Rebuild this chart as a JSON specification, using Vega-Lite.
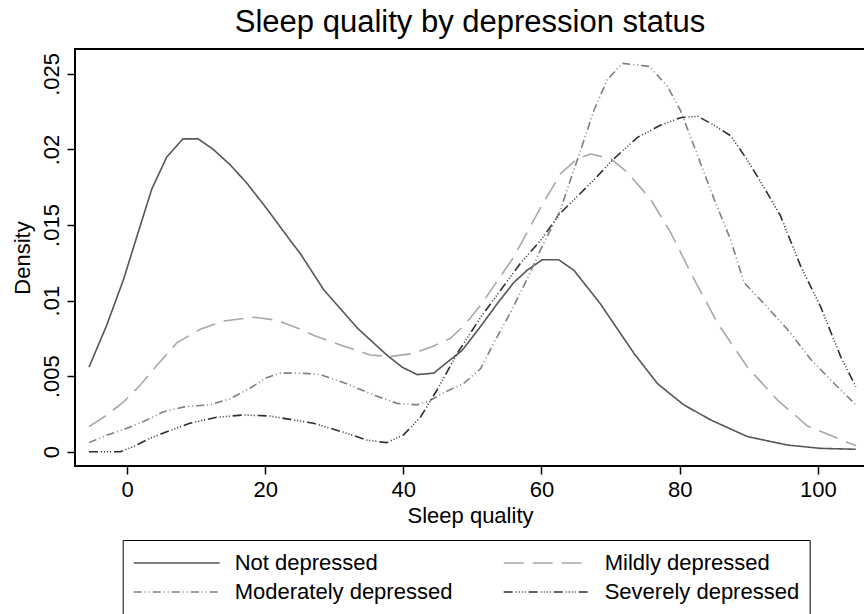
{
  "$schema": "https://vega.github.io/schema/vega-lite/v6.json",
  "width": 790,
  "height": 417,
  "autosize": {"type": "none"},
  "padding": {"left": 75, "top": 49, "right": 0, "bottom": 148},
  "background": "white",
  "title": {
    "text": "Sleep quality by depression status",
    "font": "Liberation Sans",
    "fontSize": 31,
    "fontWeight": "normal",
    "color": "black",
    "anchor": "middle",
    "frame": "group",
    "baseline": "alphabetic",
    "offset": -14
  },
  "data": {
    "values": [
      {"status": "Not depressed", "sleep": -5.5, "density": 0.0056},
      {"status": "Not depressed", "sleep": -3.0, "density": 0.0083},
      {"status": "Not depressed", "sleep": -0.5, "density": 0.0114},
      {"status": "Not depressed", "sleep": 1.4, "density": 0.0142},
      {"status": "Not depressed", "sleep": 3.6, "density": 0.0174},
      {"status": "Not depressed", "sleep": 5.75, "density": 0.0195},
      {"status": "Not depressed", "sleep": 8.1, "density": 0.0207},
      {"status": "Not depressed", "sleep": 10.3, "density": 0.0207},
      {"status": "Not depressed", "sleep": 12.5, "density": 0.0200},
      {"status": "Not depressed", "sleep": 14.9, "density": 0.0190},
      {"status": "Not depressed", "sleep": 17.3, "density": 0.0178},
      {"status": "Not depressed", "sleep": 20.2, "density": 0.0161},
      {"status": "Not depressed", "sleep": 23.6, "density": 0.0140},
      {"status": "Not depressed", "sleep": 25.1, "density": 0.0131},
      {"status": "Not depressed", "sleep": 28.5, "density": 0.0107},
      {"status": "Not depressed", "sleep": 33.3, "density": 0.0082},
      {"status": "Not depressed", "sleep": 37.6, "density": 0.0064},
      {"status": "Not depressed", "sleep": 39.8, "density": 0.0056},
      {"status": "Not depressed", "sleep": 42.0, "density": 0.0051},
      {"status": "Not depressed", "sleep": 44.4, "density": 0.0052},
      {"status": "Not depressed", "sleep": 46.3, "density": 0.0059},
      {"status": "Not depressed", "sleep": 48.5, "density": 0.0067},
      {"status": "Not depressed", "sleep": 51.2, "density": 0.0083},
      {"status": "Not depressed", "sleep": 53.6, "density": 0.0098},
      {"status": "Not depressed", "sleep": 56.0, "density": 0.0112},
      {"status": "Not depressed", "sleep": 57.9, "density": 0.0120},
      {"status": "Not depressed", "sleep": 60.1, "density": 0.0127},
      {"status": "Not depressed", "sleep": 62.5, "density": 0.0127},
      {"status": "Not depressed", "sleep": 64.7, "density": 0.0120},
      {"status": "Not depressed", "sleep": 68.5, "density": 0.0098},
      {"status": "Not depressed", "sleep": 73.4, "density": 0.0065},
      {"status": "Not depressed", "sleep": 76.8, "density": 0.0045},
      {"status": "Not depressed", "sleep": 80.6, "density": 0.0031},
      {"status": "Not depressed", "sleep": 84.5, "density": 0.0021},
      {"status": "Not depressed", "sleep": 89.8, "density": 0.0010},
      {"status": "Not depressed", "sleep": 95.6, "density": 0.00044},
      {"status": "Not depressed", "sleep": 100.4, "density": 0.00022},
      {"status": "Not depressed", "sleep": 105.5, "density": 0.00016},

      {"status": "Mildly depressed", "sleep": -5.5, "density": 0.00166},
      {"status": "Mildly depressed", "sleep": -2.9, "density": 0.00243},
      {"status": "Mildly depressed", "sleep": -0.5, "density": 0.0033},
      {"status": "Mildly depressed", "sleep": 1.9, "density": 0.0044},
      {"status": "Mildly depressed", "sleep": 4.3, "density": 0.0057},
      {"status": "Mildly depressed", "sleep": 7.2, "density": 0.0072},
      {"status": "Mildly depressed", "sleep": 10.6, "density": 0.0081},
      {"status": "Mildly depressed", "sleep": 14.0, "density": 0.00865},
      {"status": "Mildly depressed", "sleep": 18.3, "density": 0.0089},
      {"status": "Mildly depressed", "sleep": 21.7, "density": 0.0087},
      {"status": "Mildly depressed", "sleep": 25.1, "density": 0.0081},
      {"status": "Mildly depressed", "sleep": 27.0, "density": 0.0077},
      {"status": "Mildly depressed", "sleep": 31.3, "density": 0.0070},
      {"status": "Mildly depressed", "sleep": 35.2, "density": 0.0064},
      {"status": "Mildly depressed", "sleep": 38.1, "density": 0.0063},
      {"status": "Mildly depressed", "sleep": 41.5, "density": 0.0065},
      {"status": "Mildly depressed", "sleep": 44.4, "density": 0.0070},
      {"status": "Mildly depressed", "sleep": 46.8, "density": 0.0075},
      {"status": "Mildly depressed", "sleep": 48.7, "density": 0.0083},
      {"status": "Mildly depressed", "sleep": 51.2, "density": 0.0097},
      {"status": "Mildly depressed", "sleep": 53.6, "density": 0.0113},
      {"status": "Mildly depressed", "sleep": 56.0, "density": 0.0129},
      {"status": "Mildly depressed", "sleep": 59.8, "density": 0.0161},
      {"status": "Mildly depressed", "sleep": 62.75, "density": 0.0184},
      {"status": "Mildly depressed", "sleep": 65.2, "density": 0.0194},
      {"status": "Mildly depressed", "sleep": 67.1, "density": 0.0197},
      {"status": "Mildly depressed", "sleep": 70.0, "density": 0.0194},
      {"status": "Mildly depressed", "sleep": 72.4, "density": 0.0185},
      {"status": "Mildly depressed", "sleep": 75.8, "density": 0.0167},
      {"status": "Mildly depressed", "sleep": 78.7, "density": 0.0145},
      {"status": "Mildly depressed", "sleep": 82.1, "density": 0.0114},
      {"status": "Mildly depressed", "sleep": 85.5, "density": 0.0085},
      {"status": "Mildly depressed", "sleep": 89.8, "density": 0.0056},
      {"status": "Mildly depressed", "sleep": 94.2, "density": 0.0034},
      {"status": "Mildly depressed", "sleep": 98.5, "density": 0.0017},
      {"status": "Mildly depressed", "sleep": 105.5, "density": 0.0004},

      {"status": "Moderately depressed", "sleep": -5.5, "density": 0.0006},
      {"status": "Moderately depressed", "sleep": -2.9, "density": 0.0011},
      {"status": "Moderately depressed", "sleep": 0.0, "density": 0.00155},
      {"status": "Moderately depressed", "sleep": 2.4, "density": 0.0020},
      {"status": "Moderately depressed", "sleep": 5.3, "density": 0.00265},
      {"status": "Moderately depressed", "sleep": 8.6, "density": 0.0030},
      {"status": "Moderately depressed", "sleep": 12.0, "density": 0.0031},
      {"status": "Moderately depressed", "sleep": 14.9, "density": 0.0035},
      {"status": "Moderately depressed", "sleep": 17.8, "density": 0.0042},
      {"status": "Moderately depressed", "sleep": 20.2, "density": 0.0049},
      {"status": "Moderately depressed", "sleep": 22.2, "density": 0.0052},
      {"status": "Moderately depressed", "sleep": 25.1, "density": 0.0052},
      {"status": "Moderately depressed", "sleep": 28.0, "density": 0.0051},
      {"status": "Moderately depressed", "sleep": 31.8, "density": 0.0045},
      {"status": "Moderately depressed", "sleep": 35.7, "density": 0.00375},
      {"status": "Moderately depressed", "sleep": 39.1, "density": 0.0032},
      {"status": "Moderately depressed", "sleep": 42.0, "density": 0.0031},
      {"status": "Moderately depressed", "sleep": 43.9, "density": 0.0034},
      {"status": "Moderately depressed", "sleep": 46.3, "density": 0.0040},
      {"status": "Moderately depressed", "sleep": 48.7, "density": 0.0045},
      {"status": "Moderately depressed", "sleep": 51.2, "density": 0.0055},
      {"status": "Moderately depressed", "sleep": 53.1, "density": 0.0072},
      {"status": "Moderately depressed", "sleep": 55.5, "density": 0.0092},
      {"status": "Moderately depressed", "sleep": 57.9, "density": 0.0114},
      {"status": "Moderately depressed", "sleep": 59.9, "density": 0.0134},
      {"status": "Moderately depressed", "sleep": 62.75, "density": 0.0160},
      {"status": "Moderately depressed", "sleep": 64.2, "density": 0.0180},
      {"status": "Moderately depressed", "sleep": 65.7, "density": 0.0200},
      {"status": "Moderately depressed", "sleep": 67.6, "density": 0.0226},
      {"status": "Moderately depressed", "sleep": 69.5, "density": 0.0246},
      {"status": "Moderately depressed", "sleep": 71.7, "density": 0.0257},
      {"status": "Moderately depressed", "sleep": 75.6, "density": 0.0255},
      {"status": "Moderately depressed", "sleep": 78.2, "density": 0.0242},
      {"status": "Moderately depressed", "sleep": 80.1, "density": 0.0226},
      {"status": "Moderately depressed", "sleep": 82.1, "density": 0.0202},
      {"status": "Moderately depressed", "sleep": 85.0, "density": 0.0167},
      {"status": "Moderately depressed", "sleep": 87.4, "density": 0.0140},
      {"status": "Moderately depressed", "sleep": 89.3, "density": 0.0112},
      {"status": "Moderately depressed", "sleep": 92.2, "density": 0.0098},
      {"status": "Moderately depressed", "sleep": 95.6, "density": 0.0081},
      {"status": "Moderately depressed", "sleep": 99.0, "density": 0.0061},
      {"status": "Moderately depressed", "sleep": 102.4, "density": 0.0045},
      {"status": "Moderately depressed", "sleep": 105.5, "density": 0.0031},

      {"status": "Severely depressed", "sleep": -5.5, "density": 0.0},
      {"status": "Severely depressed", "sleep": -1.0, "density": 0.0},
      {"status": "Severely depressed", "sleep": 0.9, "density": 0.00033},
      {"status": "Severely depressed", "sleep": 3.3, "density": 0.00088},
      {"status": "Severely depressed", "sleep": 5.75, "density": 0.00132},
      {"status": "Severely depressed", "sleep": 9.1, "density": 0.00188},
      {"status": "Severely depressed", "sleep": 13.0, "density": 0.00228},
      {"status": "Severely depressed", "sleep": 16.9, "density": 0.00243},
      {"status": "Severely depressed", "sleep": 20.7, "density": 0.00236},
      {"status": "Severely depressed", "sleep": 24.1, "density": 0.0021},
      {"status": "Severely depressed", "sleep": 27.0, "density": 0.00188},
      {"status": "Severely depressed", "sleep": 31.8, "density": 0.00122},
      {"status": "Severely depressed", "sleep": 34.7, "density": 0.00077},
      {"status": "Severely depressed", "sleep": 37.6, "density": 0.0006},
      {"status": "Severely depressed", "sleep": 40.0, "density": 0.0011},
      {"status": "Severely depressed", "sleep": 42.5, "density": 0.0023},
      {"status": "Severely depressed", "sleep": 44.9, "density": 0.0041},
      {"status": "Severely depressed", "sleep": 47.8, "density": 0.0065},
      {"status": "Severely depressed", "sleep": 51.2, "density": 0.0089},
      {"status": "Severely depressed", "sleep": 54.1, "density": 0.0107},
      {"status": "Severely depressed", "sleep": 57.0, "density": 0.0125},
      {"status": "Severely depressed", "sleep": 59.9, "density": 0.0140},
      {"status": "Severely depressed", "sleep": 62.75, "density": 0.0158},
      {"status": "Severely depressed", "sleep": 65.2, "density": 0.0169},
      {"status": "Severely depressed", "sleep": 67.6, "density": 0.0180},
      {"status": "Severely depressed", "sleep": 70.5, "density": 0.0194},
      {"status": "Severely depressed", "sleep": 73.9, "density": 0.0208},
      {"status": "Severely depressed", "sleep": 77.2, "density": 0.0216},
      {"status": "Severely depressed", "sleep": 80.1, "density": 0.0221},
      {"status": "Severely depressed", "sleep": 82.6, "density": 0.0222},
      {"status": "Severely depressed", "sleep": 85.0, "density": 0.0216},
      {"status": "Severely depressed", "sleep": 87.4, "density": 0.0209},
      {"status": "Severely depressed", "sleep": 89.8, "density": 0.0193},
      {"status": "Severely depressed", "sleep": 92.2, "density": 0.0175},
      {"status": "Severely depressed", "sleep": 94.6, "density": 0.0156},
      {"status": "Severely depressed", "sleep": 97.5, "density": 0.0123},
      {"status": "Severely depressed", "sleep": 100.4, "density": 0.0096},
      {"status": "Severely depressed", "sleep": 103.3, "density": 0.0063},
      {"status": "Severely depressed", "sleep": 105.5, "density": 0.0043}
    ]
  },
  "mark": {"type": "line", "strokeWidth": 1.6, "interpolate": "linear"},
  "encoding": {
    "x": {
      "field": "sleep",
      "type": "quantitative",
      "scale": {"domain": [-7.53, 106.83], "nice": false, "zero": false},
      "axis": {
        "values": [0, 20, 40, 60, 80, 100],
        "title": "Sleep quality",
        "domain": false,
        "grid": false,
        "tickSize": 8,
        "tickColor": "black",
        "tickWidth": 1.5,
        "labelFont": "Liberation Sans",
        "labelFontSize": 22,
        "labelColor": "black",
        "labelBaseline": "alphabetic",
        "labelPadding": 22,
        "labelFlush": false,
        "titleFont": "Liberation Sans",
        "titleFontSize": 22,
        "titleFontWeight": "normal",
        "titleColor": "black",
        "titleBaseline": "alphabetic",
        "titleY": 56
      }
    },
    "y": {
      "field": "density",
      "type": "quantitative",
      "scale": {"domain": [-0.000947, 0.02665], "nice": false, "zero": false},
      "axis": {
        "values": [0, 0.005, 0.01, 0.015, 0.02, 0.025],
        "labelExpr": "datum.value == 0 ? '0' : substring(format(datum.value, '.3~f'), 1)",
        "title": "Density",
        "domain": false,
        "grid": false,
        "tickSize": 8,
        "tickColor": "black",
        "tickWidth": 1.5,
        "labelFont": "Liberation Sans",
        "labelFontSize": 22,
        "labelColor": "black",
        "labelAngle": -90,
        "labelAlign": "center",
        "labelBaseline": "alphabetic",
        "labelPadding": 9,
        "titleFont": "Liberation Sans",
        "titleFontSize": 22,
        "titleFontWeight": "normal",
        "titleColor": "black",
        "titleAngle": -90,
        "titleAlign": "center",
        "titleBaseline": "alphabetic",
        "titleX": -46
      }
    },
    "color": {
      "field": "status",
      "type": "nominal",
      "scale": {
        "domain": ["Not depressed", "Moderately depressed", "Mildly depressed", "Severely depressed"],
        "range": ["#555555", "#7f7f7f", "#a8a8a8", "#2e2e2e"]
      },
      "legend": {
        "title": null,
        "orient": "none",
        "legendX": 47.7,
        "legendY": 491,
        "columns": 2,
        "columnPadding": 50,
        "rowPadding": 3,
        "padding": 10,
        "clipHeight": 26
      }
    },
    "strokeDash": {
      "field": "status",
      "type": "nominal",
      "scale": {
        "domain": ["Not depressed", "Moderately depressed", "Mildly depressed", "Severely depressed"],
        "range": [[1, 0], [8, 3, 1, 3, 1, 3], [20, 9], [9, 3, 1, 2, 1, 2, 1, 2, 1, 3]]
      },
      "legend": {
        "title": null,
        "orient": "none",
        "legendX": 47.7,
        "legendY": 491,
        "columns": 2,
        "columnPadding": 50,
        "rowPadding": 3,
        "padding": 10,
        "clipHeight": 26
      }
    }
  },
  "config": {
    "view": {"stroke": "black", "strokeWidth": 2},
    "legend": {
      "strokeColor": "black",
      "strokeWidth": 1,
      "fillColor": "white",
      "symbolType": "stroke",
      "symbolSize": 7396,
      "symbolStrokeWidth": 1.6,
      "labelFont": "Liberation Sans",
      "labelFontSize": 22,
      "labelColor": "black",
      "labelOffset": 14,
      "labelLimit": 400,
      "gridAlign": "all"
    }
  }
}
